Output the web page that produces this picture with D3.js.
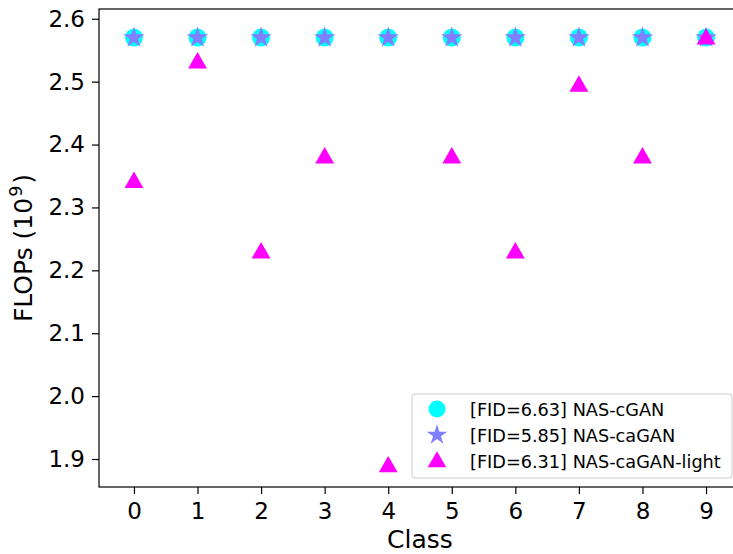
<!DOCTYPE html>
<html>
<head>
<meta charset="utf-8">
<script src="https://cdn.jsdelivr.net/npm/d3@7"></script>
<style>
  body { margin: 0; background: #fff; }
  text { font-family: "DejaVu Sans", sans-serif; }
</style>
</head>
<body>
<div class="container"></div>
<script>
// chart data
var classes = [0, 1, 2, 3, 4, 5, 6, 7, 8, 9];
var flopsCGAN = [2.57, 2.57, 2.57, 2.57, 2.57, 2.57, 2.57, 2.57, 2.57, 2.57];
var flopsCaGAN = [2.57, 2.57, 2.57, 2.57, 2.57, 2.57, 2.57, 2.57, 2.57, 2.57];
var flopsLight = [2.342, 2.532, 2.23, 2.381, 1.89, 2.381, 2.23, 2.495, 2.381, 2.57];
var yTicks = [1.9, 2.0, 2.1, 2.2, 2.3, 2.4, 2.5, 2.6];
var seriesNames = ["[FID=6.63] NAS-cGAN", "[FID=5.85] NAS-caGAN", "[FID=6.31] NAS-caGAN-light"];

var opts = {width: 733, height: 554,
            left: 99, right: 741, top: 9, bottom: 487};

var svg = d3.select(".container")
    .append("svg")
    .attr("width", opts.width)
    .attr("height", opts.height);

var x = d3.scaleLinear().domain([-0.55, 9.55]).range([opts.left, opts.right]);
var y = d3.scaleLinear().domain([1.8555, 2.6155]).range([opts.bottom, opts.top]);

// axes
var xAxis = d3.axisBottom(x).tickValues(classes).tickFormat(d3.format("d"))
    .tickSizeInner(7).tickSizeOuter(0).tickPadding(9);
var yAxis = d3.axisLeft(y).tickValues(yTicks).tickFormat(d3.format(".1f"))
    .tickSizeInner(7).tickSizeOuter(0).tickPadding(7);

var gx = svg.append("g").attr("transform", "translate(0," + opts.bottom + ")").call(xAxis);
var gy = svg.append("g").attr("transform", "translate(" + opts.left + ",0)").call(yAxis);
[gx, gy].forEach(function(g){
  g.selectAll("text").attr("font-size", 23).attr("fill", "#000")
    .attr("font-family", "DejaVu Sans, sans-serif");
  g.selectAll("line").attr("stroke", "#000").attr("stroke-width", 1.2);
  g.select(".domain").remove();
});

// frame
svg.append("rect")
    .attr("x", opts.left).attr("y", opts.top)
    .attr("width", opts.right - opts.left).attr("height", opts.bottom - opts.top)
    .attr("fill", "none").attr("stroke", "#000").attr("stroke-width", 1.2);

// labels
svg.append("text")
    .attr("x", (opts.left + opts.right) / 2).attr("y", 548)
    .attr("text-anchor", "middle").attr("font-size", 25)
    .text("Class");

var yl = svg.append("text")
    .attr("transform", "translate(32," + ((opts.top + opts.bottom) / 2) + ") rotate(-90)")
    .attr("text-anchor", "middle").attr("font-size", 25);
yl.append("tspan").text("FLOPs (10");
yl.append("tspan").attr("font-size", 17.5).attr("dy", -10).attr("dx", 1).text("9");
yl.append("tspan").attr("dy", 10).attr("dx", 2).text(")");

var star = d3.symbol().type(d3.symbolStar).size(140);
var tri = d3.symbol().type(d3.symbolTriangle).size(155);

var plot = svg.append("g");

plot.selectAll("circle.cgan")
    .data(classes)
    .enter().append("circle")
    .attr("class", "cgan")
    .attr("cx", function(d){ return x(d); })
    .attr("cy", function(d, i){ return y(flopsCGAN[i]); })
    .attr("r", 9)
    .attr("fill", "#00ffff");

plot.selectAll("path.cagan")
    .data(classes)
    .enter().append("path")
    .attr("class", "cagan")
    .attr("d", star)
    .attr("transform", function(d, i){ return "translate(" + x(d) + "," + y(flopsCaGAN[i]) + ")"; })
    .attr("fill", "#8080ff");

plot.selectAll("path.light")
    .data(classes)
    .enter().append("path")
    .attr("class", "light")
    .attr("d", tri)
    .attr("transform", function(d, i){ return "translate(" + x(d) + "," + (y(flopsLight[i]) + 1.5) + ")"; })
    .attr("fill", "#ff00ff");

// legend
var lg = svg.append("g").attr("transform", "translate(412,394)");
lg.append("rect")
    .attr("width", 320).attr("height", 84).attr("rx", 3)
    .attr("fill", "#fff").attr("fill-opacity", 0.8)
    .attr("stroke", "#cccccc").attr("stroke-width", 1);

var rows = [15, 41, 67];
lg.append("circle").attr("cx", 25).attr("cy", rows[0]).attr("r", 8.5).attr("fill", "#00ffff");
lg.append("path").attr("d", d3.symbol().type(d3.symbolStar).size(130))
    .attr("transform", "translate(25," + rows[1] + ")").attr("fill", "#8080ff");
lg.append("path").attr("d", d3.symbol().type(d3.symbolTriangle).size(150))
    .attr("transform", "translate(25," + (rows[2] + 1) + ")").attr("fill", "#ff00ff");

lg.selectAll("text.leg")
    .data(seriesNames)
    .enter().append("text")
    .attr("class", "leg")
    .attr("x", 58)
    .attr("y", function(d, i){ return rows[i] + 6.5; })
    .attr("font-size", 17.7)
    .attr("fill", "#000")
    .text(function(d){ return d; });
</script>
</body>
</html>
